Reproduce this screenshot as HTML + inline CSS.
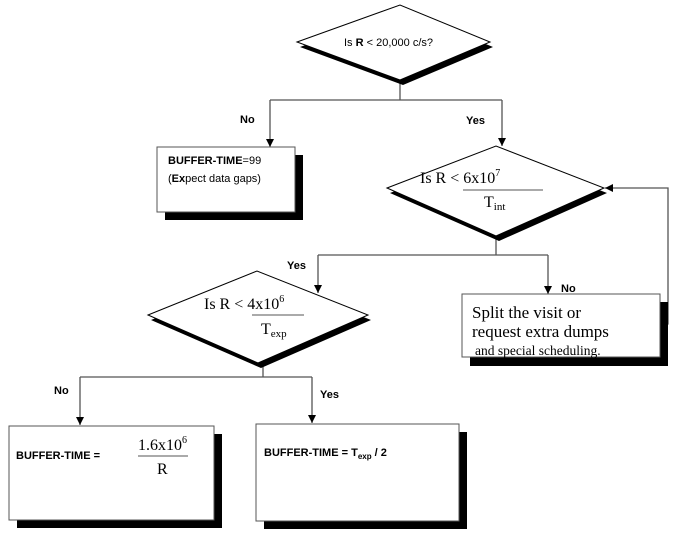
<!DOCTYPE html>
<html><head><style>body{margin:0;background:#fff}svg{display:block}
.s{font-family:"Liberation Sans",sans-serif;font-size:11px}
.r{font-family:"Liberation Serif",serif}
</style></head><body>
<svg width="687" height="560" xmlns="http://www.w3.org/2000/svg">
<defs><marker id="a" viewBox="0 0 10 10" refX="10" refY="5" markerWidth="8" markerHeight="16" markerUnits="userSpaceOnUse" orient="auto"><path d="M0,0L10,5L0,10z" fill="#000"/></marker></defs>
<g stroke="#555" stroke-width="1.3" fill="none">
<path d="M400,80V100M270,100H502"/>
<path d="M270,100V147" marker-end="url(#a)"/>
<path d="M502,100V146" marker-end="url(#a)"/>
<path d="M496,236V255M318,255H548"/>
<path d="M318,255V293" marker-end="url(#a)"/>
<path d="M548,255V294" marker-end="url(#a)"/>
<path d="M660,324H668V188H605" marker-end="url(#a)"/>
<path d="M263,362V377M80,377H312"/>
<path d="M80,377V425" marker-end="url(#a)"/>
<path d="M312,377V423" marker-end="url(#a)"/>
</g>
<!-- diamonds -->
<polygon points="300,47 403,10 493,47 403,85" fill="#000"/>
<polygon points="297,42 400,5 490,42 400,80" fill="#fff" stroke="#000"/>
<polygon points="390,193 499,151 607,193 499,241" fill="#000"/>
<polygon points="387,188 496,146 604,188 496,236" fill="#fff" stroke="#000"/>
<polygon points="151,320 260,276 371,320 261,368" fill="#000"/>
<polygon points="148,315 257,271 368,315 258,363" fill="#fff" stroke="#000"/>
<!-- boxes -->
<rect x="165" y="155" width="138" height="65" fill="#000"/>
<rect x="157" y="147" width="138" height="65" fill="#fff" stroke="#555"/>
<rect x="470" y="302" width="198" height="64" fill="#000"/>
<rect x="462" y="294" width="198" height="63" fill="#fff" stroke="#555"/>
<rect x="17" y="434" width="205" height="94" fill="#000"/>
<rect x="9" y="426" width="205" height="94" fill="#fff" stroke="#555"/>
<rect x="264" y="432" width="203" height="97" fill="#000"/>
<rect x="256" y="424" width="203" height="97" fill="#fff" stroke="#555"/>
<!-- text -->
<g class="s" font-weight="bold" font-size="10.5">
<text x="344" y="46" font-weight="normal" font-size="11">Is <tspan font-weight="bold">R</tspan> &lt; 20,000 c/s?</text>
<text x="240" y="123">No</text>
<text x="466" y="124">Yes</text>
<text x="287" y="269">Yes</text>
<text x="561" y="292">No</text>
<text x="54" y="394">No</text>
<text x="320" y="398">Yes</text>
<text x="168" y="164">BUFFER-TIME<tspan font-weight="normal">=99</tspan></text>
<text x="168" y="182" font-weight="normal">(<tspan font-weight="bold">Ex</tspan>pect data gaps)</text>
<text x="16" y="459">BUFFER-TIME =</text>
<text x="264" y="456">BUFFER-TIME = T<tspan font-size="8" dy="3">exp</tspan><tspan dy="-3"> / 2</tspan></text>
</g>
<g class="r" font-size="16">
<text x="420" y="183">Is R &lt; 6x10<tspan font-size="10" dy="-7">7</tspan></text>
<line x1="463" y1="190" x2="543" y2="190" stroke="#555"/>
<text x="484" y="207">T<tspan font-size="11" dy="3">int</tspan></text>
<text x="204" y="309">Is R &lt; 4x10<tspan font-size="10" dy="-7">6</tspan></text>
<line x1="252" y1="315" x2="304" y2="315" stroke="#555"/>
<text x="261" y="334">T<tspan font-size="11" dy="3">exp</tspan></text>
<text x="472" y="318" font-size="17">Split the visit or</text>
<text x="472" y="337" font-size="17">request extra dumps</text>
<text x="475" y="355" font-size="13.5">and special scheduling.</text>
<text x="138" y="450">1.6x10<tspan font-size="10" dy="-7">6</tspan></text>
<line x1="138" y1="456" x2="188" y2="456" stroke="#555"/>
<text x="157" y="474">R</text>
</g>
</svg>
</body></html>
